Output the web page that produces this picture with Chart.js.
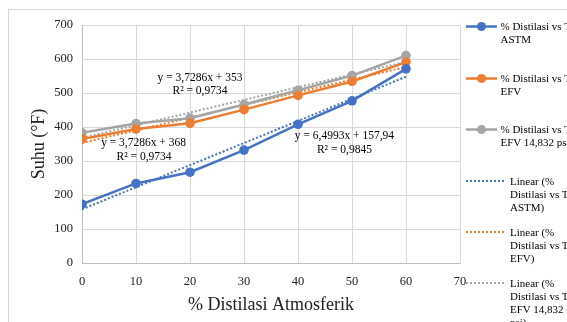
<!DOCTYPE html>
<html>
<head>
<meta charset="utf-8">
<script src="https://cdn.jsdelivr.net/npm/chart.js@4/dist/chart.umd.min.js"></script>
<style>
html, body { margin: 0; padding: 0; background: #fff; }
#wrap { position: relative; width: 567px; height: 322px; overflow: hidden; }
#frame { position: absolute; left: 8px; top: 9px; width: 700px; height: 400px;
  border-left: 1px solid #d9d9d9; border-top: 1px solid #d9d9d9; }
#grafico { position: absolute; left: 0; top: 0; }
#legenda { position: absolute; left: 0; top: 0; width: 567px; height: 322px;
  font-family: "Liberation Serif", serif; font-size: 11px; line-height: 13px; color: #000; }
.texto { position: absolute; white-space: nowrap; }
#legenda svg { position: absolute; left: 0; top: 0; }
</style>
</head>
<body>
<div id="wrap">
  <div id="frame"></div>
  <canvas id="grafico" width="567" height="322"></canvas>
  <div id="legenda"></div>
</div>
<script>
// % distilasi (x)
const distilasi = [0, 10, 20, 30, 40, 50, 60]
// suhu (°F) per seri
const suhuASTM = [173, 234, 267, 332, 408, 477, 571]
const suhuEFV = [365, 394, 411, 451, 493, 534, 591]
const suhuEFV14 = [383, 410, 426, 466, 508, 551, 610]

// titik ujung garis trend linear (x = 0 dan x = 60)
const trendX = [0, 60]
const trendASTM = [157.94, 547.9]
const trendEFV = [353, 576.7]
const trendEFV14 = [368, 591.7]

const ticksY = [0, 100, 200, 300, 400, 500, 600, 700]

const labelsLegenda = [
    ['% Distilasi vs T', 'ASTM'],
    ['% Distilasi vs T', 'EFV'],
    ['% Distilasi vs T', 'EFV 14,832 psi'],
    ['Linear (%', 'Distilasi vs T', 'ASTM)'],
    ['Linear (%', 'Distilasi vs T', 'EFV)'],
    ['Linear (%', 'Distilasi vs T', 'EFV 14,832', 'psi)']
]

// persamaan trend: [teks, x, y] dalam satuan data
const persamaan = [
    ['y = 3,7286x + 353', 21.85, 545],
    ['R² = 0,9734', 21.85, 507],
    ['y = 3,7286x + 368', 11.4, 354],
    ['R² = 0,9734', 11.5, 313],
    ['y = 6,4993x + 157,94', 48.6, 375],
    ['R² = 0,9845', 48.6, 333]
]

const biru = '#4472C4'
const oranye = '#ED7D31'
const abu = '#A5A5A5'
const fonte = '"Liberation Serif", serif'

function pares(xs, ys) {
    return xs.map((x, i) => ({ x: x, y: ys[i] }))
}

function seri(label, ys, cor) {
    return {
        label: label,
        data: pares(distilasi, ys),
        borderColor: cor,
        backgroundColor: cor,
        borderWidth: 2.5,
        pointRadius: 4.8,
        pointBorderWidth: 0,
        tension: 0
    }
}

function trend(label, ys, cor) {
    return {
        label: label,
        data: pares(trendX, ys),
        borderColor: cor,
        borderWidth: 2,
        borderDash: [2, 2],
        pointRadius: 0,
        tension: 0
    }
}

const dadosGrafico = {
    datasets: [
        seri('ASTM', suhuASTM, biru),
        seri('EFV', suhuEFV, oranye),
        seri('EFV 14,832 psi', suhuEFV14, abu),
        trend('Linear ASTM', trendASTM, biru),
        trend('Linear EFV', trendEFV, oranye),
        trend('Linear EFV 14,832 psi', trendEFV14, abu)
    ]
}

const pluginPersamaan = {
    id: 'persamaan',
    afterDatasetsDraw(chart) {
        const ctx = chart.ctx
        const sx = chart.scales.x
        const sy = chart.scales.y
        ctx.save()
        ctx.font = '11.5px ' + fonte
        ctx.fillStyle = '#000'
        ctx.textAlign = 'center'
        ctx.textBaseline = 'middle'
        persamaan.forEach(p => {
            ctx.fillText(p[0], sx.getPixelForValue(p[1]), sy.getPixelForValue(p[2]))
        })
        ctx.restore()
    }
}

const myChart = new Chart(document.getElementById('grafico'), {
    type: 'line',
    data: dadosGrafico,
    options: {
        responsive: false,
        animation: false,
        layout: { padding: { left: 0, right: 107, top: 25, bottom: 0 } },
        plugins: { legend: { display: false }, tooltip: { enabled: false } },
        scales: {
            x: {
                type: 'linear',
                min: 0,
                max: 70,
                ticks: { stepSize: 10, padding: 11, color: '#222', font: { family: fonte, size: 12.5 } },
                grid: { color: '#d9d9d9', drawTicks: false },
                border: { color: '#bfbfbf', width: 1 },
                title: {
                    display: true,
                    text: '% Distilasi Atmosferik',
                    color: '#222',
                    font: { family: fonte, size: 18 },
                    padding: { top: 0, bottom: 6 }
                },
                afterFit(s) { s.height = 59 }
            },
            y: {
                min: 0,
                max: 700,
                afterBuildTicks(s) { s.ticks = ticksY.map(v => ({ value: v })) },
                ticks: { padding: 9, color: '#222', font: { family: fonte, size: 12.5 } },
                grid: { color: '#d9d9d9', drawTicks: false },
                border: { color: '#bfbfbf', width: 1 },
                title: {
                    display: true,
                    text: 'Suhu (°F)',
                    color: '#222',
                    font: { family: fonte, size: 18 },
                    padding: { top: 28, bottom: 0 }
                },
                afterFit(s) { s.width = 82 }
            }
        }
    },
    plugins: [pluginPersamaan]
})

// legenda manual (teks multi-baris)
const cores = [biru, oranye, abu, biru, oranye, abu]
const yMarca = [26.5, 78.5, 129.5, 181, 232, 283]
const legenda = document.getElementById('legenda')
let svg = '<svg width="567" height="322" xmlns="http://www.w3.org/2000/svg">'
labelsLegenda.forEach((linhas, i) => {
    const y = yMarca[i]
    const linear = i >= 3
    if (linear) {
        svg += '<line x1="466" x2="505" y1="' + y + '" y2="' + y + '" stroke="' + cores[i] +
            '" stroke-width="2" stroke-dasharray="2,2"/>'
    } else {
        svg += '<line x1="466" x2="497" y1="' + y + '" y2="' + y + '" stroke="' + cores[i] +
            '" stroke-width="2.5"/>'
        svg += '<circle cx="481.5" cy="' + y + '" r="4.5" fill="' + cores[i] + '"/>'
    }
    const div = document.createElement('div')
    div.className = 'texto'
    div.style.left = (linear ? 510 : 500.5) + 'px'
    div.style.top = (y - 6.5) + 'px'
    div.innerHTML = linhas.join('<br>')
    legenda.appendChild(div)
})
svg += '</svg>'
legenda.insertAdjacentHTML('afterbegin', svg)
</script>
</body>
</html>
